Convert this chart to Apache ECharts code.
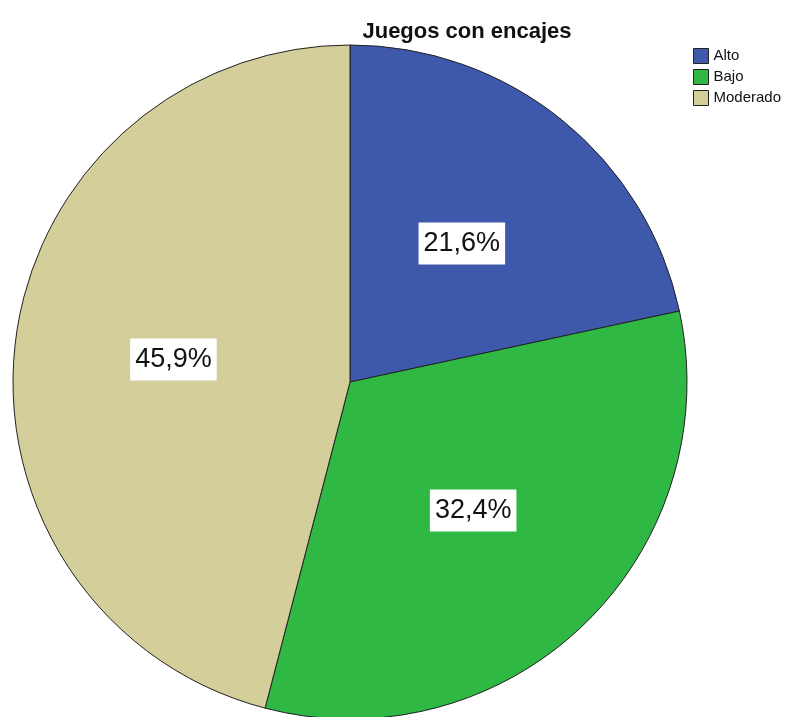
<!DOCTYPE html>
<html><head><meta charset="utf-8">
<script src="https://cdn.jsdelivr.net/npm/echarts@6/dist/echarts.min.js"></script>
<style>html,body{margin:0;padding:0;background:#fff}#c{width:785px;height:717px}</style>
</head><body><div id="c"></div>
<script>
const categories = ['Alto', 'Bajo', 'Moderado'];
const values = [21.6, 32.4, 45.9];
const colors = ['#3e58ac', '#2fb844', '#d3ce9a'];

const fmt = p => p.value.toFixed(1).replace('.', ',') + '%';
const chart = echarts.init(document.getElementById('c'), null, {renderer: 'canvas'});
chart.setOption({
  animation: false,
  backgroundColor: '#ffffff',
  title: {
    text: 'Juegos con encajes', left: 462, top: 16, textAlign: 'center',
    textStyle: {fontFamily: 'Liberation Sans, Arial', fontSize: 22, fontWeight: 'bold', color: '#111'}
  },
  legend: {
    orient: 'vertical', left: 693, top: 48, itemWidth: 15, itemHeight: 15, itemGap: 5,
    icon: 'rect', selectedMode: false, padding: 0,
    textStyle: {fontFamily: 'Liberation Sans, Arial', fontSize: 15, color: '#111'},
    data: categories.map((n, i) => ({name: n, itemStyle: {color: colors[i], borderColor: '#222', borderWidth: 1}}))
  },
  series: [{
    type: 'pie', center: [350, 382], radius: [0, 337], startAngle: 90, clockwise: true,
    silent: true,
    itemStyle: {borderColor: '#222', borderWidth: 1},
    label: {show: false},
    labelLine: {show: false},
    data: categories.map((n, i) => ({name: n, value: values[i], itemStyle: {color: colors[i]}}))
  }, {
    type: 'pie', center: [350, 382], radius: [0, 350], startAngle: 90, clockwise: true,
    silent: true, z: 3,
    itemStyle: {color: 'rgba(0,0,0,0)', borderWidth: 0},
    label: {
      show: true, position: 'inside', formatter: fmt,
      fontFamily: 'Liberation Sans Narrow, Arial Narrow, Liberation Sans, Arial', fontSize: 27, color: '#111',
      backgroundColor: '#fff', padding: [8, 5, 7, 5]
    },
    labelLine: {show: false},
    data: categories.map((n, i) => ({name: n, value: values[i]}))
  }]
});
</script></body></html>
